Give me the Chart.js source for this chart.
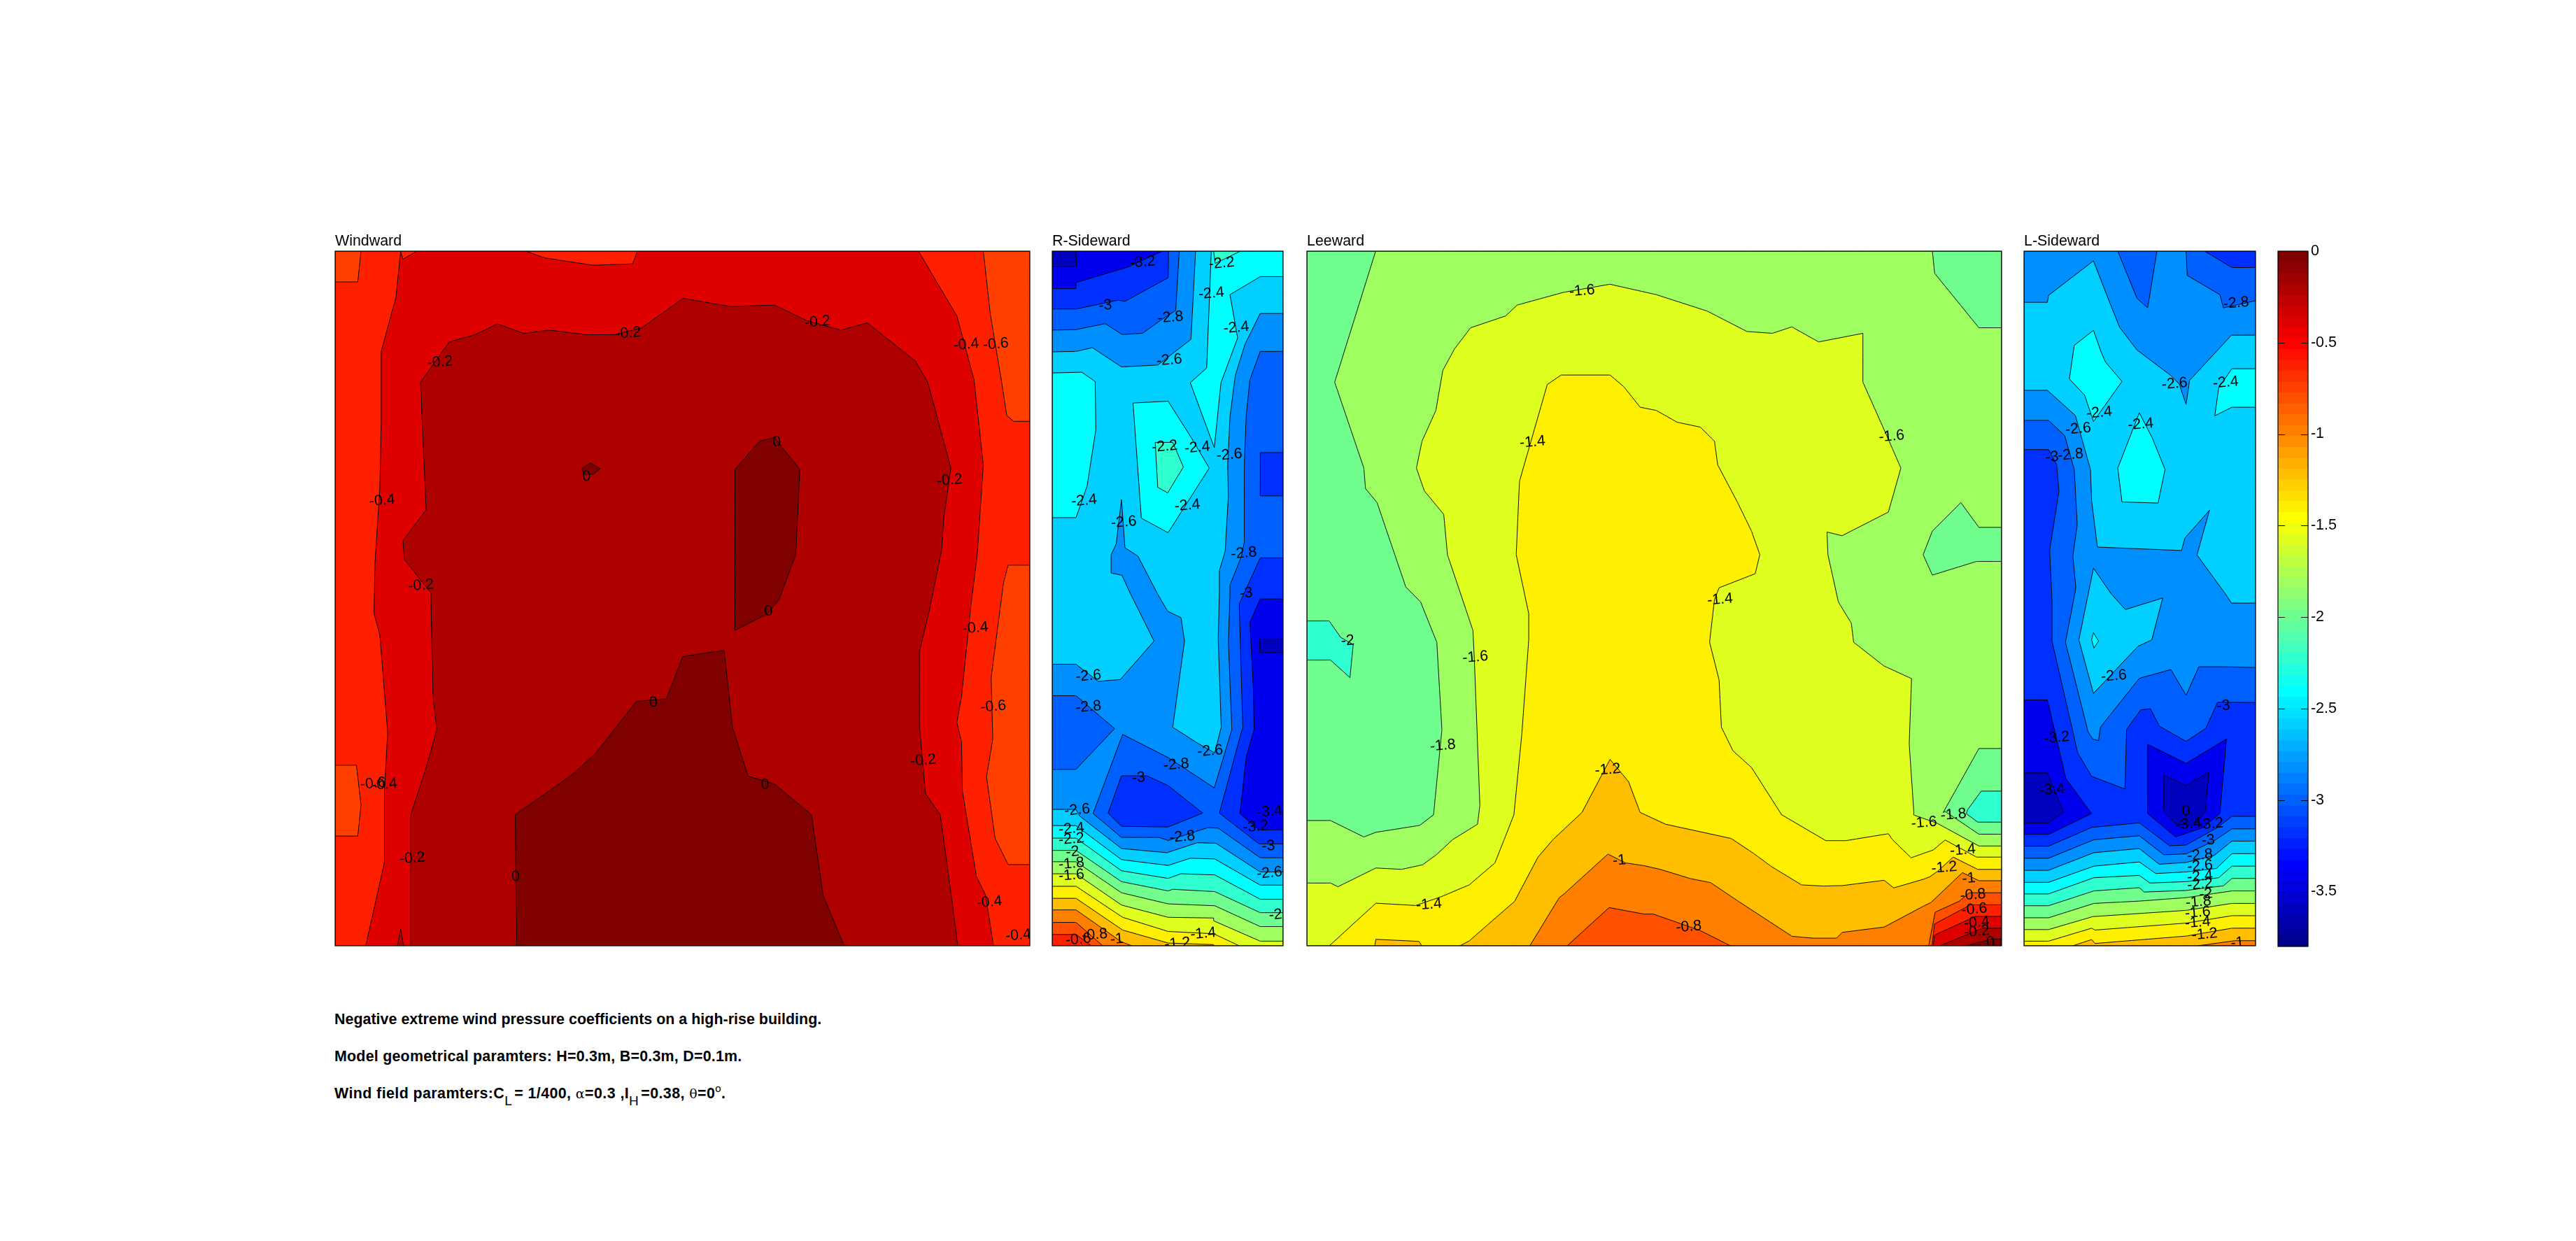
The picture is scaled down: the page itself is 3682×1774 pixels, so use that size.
<!DOCTYPE html>
<html><head><meta charset="utf-8"><title>Negative extreme wind pressure coefficients</title>
<script src="https://cdn.jsdelivr.net/npm/chart.js@4"></script>
<style>
html,body{margin:0;background:#fff;width:3682px;height:1774px;overflow:hidden}
canvas{position:absolute}
.note{position:absolute;left:478px;font:bold 21.4px "Liberation Sans",Arial,sans-serif;color:#000;white-space:nowrap;line-height:24px}
.note sub{font-weight:normal;font-size:19px;line-height:0;vertical-align:-10px;margin-right:3px}
.note sup{font-weight:normal;font-size:15px;line-height:0;vertical-align:9px}
.note .g{font-family:"DejaVu Serif",serif;font-weight:normal;font-size:19px}
</style></head><body>
<div class="note" style="top:1445px;letter-spacing:.03px">Negative extreme wind pressure coefficients on a high-rise building.</div>
<div class="note" style="top:1498px;letter-spacing:.24px">Model geometrical paramters: H=0.3m, B=0.3m, D=0.1m.</div>
<div class="note" style="top:1551px;letter-spacing:.42px">Wind field paramters:C<sub>L</sub>= 1/400, <span class="g">α</span>=0.3 ,I<sub>H</sub>=0.38, <span class="g">θ</span>=0<sup>o</sup>.</div>
<script>
// Contour boundaries, as [x, y] in mm on each building face
// (y measured down from the roof). Faces are 300 mm x 300 mm and 100 mm x 300 mm.
const wideFace=[[0,0],[300,0],[300,300],[0,300]];
const sideFace=[[0,0],[100,0],[100,300],[0,300]];

// ---- Windward
const ww_n08a=[[0,0],[11.2,0],[9.8,13.3],[0,13.3]];
const ww_n08b=[[279.9,0],[300,0],[300,73.5],[293,73.5],[290,70.9],[288,57.6],[282.9,27]];
const ww_n08c=[[300,135.6],[290.6,135.6],[288.6,143.4],[283.3,184.2],[284,210.7],[281.3,227],[285,253.6],[290.6,264.9],[300,264.9]];
const ww_n08d=[[0,222],[9.2,222],[11.2,239.3],[9.8,252.6],[0,252.6]];
const ww_n04=[[28.3,0],[29.3,3.5],[35.3,0],[82.4,0],[90.4,2.9],[111.5,6.1],[128.5,5.5],[130.5,0],[251.9,0],[268.5,28],[275.9,55.5],[279.9,92.3],[277.3,131.1],[274.5,153.6],[270.5,192.4],[268.5,203.6],[270.5,211.8],[270.9,233.2],[276.9,270],[280.9,278.1],[284.3,300],[13.2,300],[17.2,282.2],[21.3,263.8],[21.3,233.2],[22.7,207.7],[19.3,165.8],[16.8,156.6],[17.2,135.2],[19.3,102.5],[19.9,73.9],[19.9,43.3],[26.3,19.8]];
const ww_n02=[[32.7,300],[32.7,243.4],[39.3,223],[43.9,206.7],[42.3,192.4],[41.3,147.4],[36.3,141.3],[29.9,133.1],[29.3,125],[39.3,111.7],[37.9,80],[36.9,56.6],[49.3,39.2],[60.4,36.1],[70,31.4],[81.4,35.5],[92.4,34.1],[108.5,36.1],[120.5,36.1],[132.5,33.1],[150.2,20.4],[170.6,23.9],[189.7,23.3],[203.7,30],[218.4,34.1],[229.8,31],[250.5,47.4],[255.9,56.6],[265.9,93.7],[262.9,114.8],[261.9,129.1],[256.5,155.6],[252.3,173],[252.3,204.6],[254.9,234.2],[261.3,243.4],[266.9,284.3],[268.9,300]];
const ww_n02b=[[26.9,300],[28.3,292.8],[29.5,300]];
const ww_z1=[[106.5,93.9],[110.1,91.5],[114.5,93.9],[111.5,96.4],[107.5,96.4]];
const ww_z2=[[172.6,94.3],[183.3,82.1],[189.7,80.5],[200.7,94.3],[198.9,131.1],[191.7,150.5],[186.7,156.6],[172.6,163.8]];
const ww_z3=[[78.4,300],[77.8,243.4],[102.5,226],[112.5,216.9],[130.1,194.4],[143,193.4],[150.2,175],[168,172.4],[171.6,205.6],[178.3,226.7],[189.7,230.1],[205.7,243.4],[210.7,278.1],[219.8,300]];
const ww_labels=[["-0.2",45.3,48],["-0.2",126.5,35.5],["-0.2",208.3,30.6],["-0.4",272.5,40.4],["-0.6",285.3,40.2],["-0.4",20.3,107.8],["0",108.5,97.4],["0",190.7,82.5],["-0.2",265.3,99],["-0.2",37.1,144.4],["0",187.1,155.6],["-0.4",276.5,162.8],["0",137.4,195],["-0.6",284.2,196.7],["-0.2",253.9,220],["-0.6",16.4,230],["-0.4",21.3,230.4],["0",185.7,230.5],["-0.2",33.3,262.2],["0",78,270.2],["-0.4",282.5,281.2],["-0.4",295,295.5]];

// ---- R-Sideward
const rs_n26a=[[0,0],[62.1,0],[60.1,38.1],[45.7,49.2],[30,50],[17.4,41.7],[10.3,43.3],[0,43.5]];
const rs_n26b=[[30,107.3],[31.5,128.1],[37.1,131.7],[45.7,148.2],[50,155.5],[55.8,158.3],[57.3,168.4],[52.2,205.6],[63.3,212.7],[70.4,216.7],[73.2,205.6],[71.9,167.4],[72.4,148.2],[72.4,138],[74.9,129.6],[76.3,105.7],[76,92.2],[77,71.4],[79.3,53.7],[83.5,40.2],[90.1,26.9],[100,26.9],[100,268.1],[90.1,268.1],[70.9,255.7],[62.8,255.5],[49.7,259.8],[30,258],[11.8,243.9],[10.3,241.1],[0,241.1],[0,178.4],[10.3,178.4],[19.9,185.8],[29.5,185],[44.1,168.4],[34,148.2],[30.2,140],[25.5,139],[25.5,131.2],[27.7,126.5]];
const rs_n28a=[[0,0],[55,0],[53.5,25.6],[47.2,29.7],[39.1,35.5],[30.2,36],[23,31.3],[10.3,33.9],[0,34.1]];
const rs_n28b=[[100,43.3],[90.1,43.3],[85.6,55.7],[84,71.4],[83.2,92.2],[83.2,125.5],[82,131.7],[77,144.2],[77,148.2],[76.3,168.4],[77.8,206.6],[70.2,231.8],[50.2,218.7],[30.5,208.7],[17.7,242.9],[30,253.2],[46.2,253.2],[50.2,254.5],[67.4,249],[71.9,249.2],[90.1,262],[100,262]];
const rs_n28c=[[0,192],[10.3,192],[27,206.2],[10.3,223.8],[0,223.8]];
const rs_n30a=[[0,0],[50.4,0],[50.2,11.5],[31.5,21.7],[28.5,21.2],[10.3,25],[0,25]];
const rs_n30b=[[90.1,87],[100,87],[100,105.7],[90.1,105.7]];
const rs_n30c=[[100,132.5],[90.1,132.5],[81.5,151.3],[81,152.3],[82.5,205.6],[72.4,242.7],[89.6,256],[100,256]];
const rs_n30d=[[30,226.6],[41.1,226.6],[50.2,230.8],[65.2,242.7],[50.2,248.7],[30,248.4],[24.2,242.7]];
const rs_n32a=[[0,0],[47.7,0],[33,6.8],[10.3,13.6],[10.3,16.2],[0,16.2]];
const rs_n32b=[[90.1,150.2],[100,150.2],[100,249.9],[89.6,249.9],[81.3,243],[84,218.7],[87.4,206.6],[87.1,188.5],[85.6,160.3]];
const rs_n34a=[[0,0],[10.4,0],[10.4,6.7],[0,6.7]];
const rs_n34b=[[89.9,167.6],[100,167.6],[100,173.4],[89.9,173.4]];
const rs_p24a=[[0,52.6],[12.8,52.3],[18.6,56.3],[18.9,77.1],[15.1,101.5],[10.3,115.1],[0,115.1]];
const rs_p24b=[[35,65.6],[50.2,64.8],[60.3,80.7],[68,93.7],[50.2,121.6],[38.6,115.3]];
const rs_p24c=[[68.9,0],[66.9,50.5],[59.8,56.8],[70.2,84.9],[73.1,56.8],[80.3,37.5],[77,18.8],[90.1,11],[100,11],[100,0]];
const rs_p24d=[[0,248.1],[10.3,248.1],[30,262.8],[50.2,265.3],[59.8,262.2],[70.4,262.5],[90.1,273.8],[100,273.8],[100,300],[0,300]];
const rs_p22a=[[69.9,0],[70.6,5.3],[81.5,0]];
const rs_p22b=[[44.6,82.6],[52.2,82.6],[56.8,93.2],[50,104.4],[45.7,102]];
const rs_p22c=[[0,253.5],[10.3,253.5],[30,267.6],[50.2,270.9],[55.8,268.9],[70.4,269.4],[90.1,279.9],[100,279.9],[100,300],[0,300]];
const rs_p20=[[0,258.8],[10.3,258.8],[30,272.3],[50.2,276.3],[52.2,275.6],[70.4,276.6],[90.1,285.7],[100,285.7],[100,300],[0,300]];
const rs_p18=[[0,263.7],[10.3,263.7],[30,277.1],[50.2,281.9],[70.4,282.7],[90.1,291.7],[100,291.7],[100,300],[0,300]];
const rs_p16=[[0,268.9],[10.3,268.9],[30,282.4],[50.2,287.7],[69.9,288],[69.9,289.2],[90.1,298],[100,298],[100,300],[0,300]];
const rs_p14=[[0,274.3],[10.3,274.3],[30.5,287.7],[50.2,293.8],[69.9,294.8],[81,300],[0,300]];
const rs_p12=[[0,279.5],[10.3,279.5],[30.5,293.2],[50.2,298.8],[69.9,299.5],[70,300],[0,300]];
const rs_p10=[[0,284.5],[10.3,284.5],[30,298.3],[34.5,300],[0,300]];
const rs_p08=[[0,289.9],[10.3,289.9],[21.9,300],[0,300]];
const rs_p06=[[0,295.1],[10.3,295.1],[16.9,300],[0,300]];
const rs_labels=[["-3.2",39.1,4.8],["-2.2",73.4,5.3],["-2.4",68.9,18.3],["-3",23,23.5],["-2.8",51.2,28.7],["-2.4",79.7,33.1],["-2.6",50.7,47.1],["-2.2",48.7,84.4],["-2.4",62.8,84.9],["-2.6",76.7,88],["-2.4",13.8,107.8],["-2.4",58.5,109.9],["-2.6",31,117.1],["-2.8",83,130.5],["-3",84,147.8],["-2.6",15.7,183.5],["-2.8",15.7,196.9],["-3",37.4,227.5],["-2.8",53.7,221.8],["-2.6",68.4,215.9],["-2.6",10.8,241.4],["-2.4",8.3,249.5],["-2.8",56.3,253],["-3.4",94.1,242.1],["-3.2",88.1,248.6],["-3",93.6,257],["-2.2",8.3,254],["-2",8.8,259.5],["-2.6",94.1,268.6],["-1.8",8.3,264.6],["-1.6",8.3,269.6],["-2",96.7,286.7],["-1.4",65.4,294.8],["-0.8",18.4,295.3],["-0.6",11.3,297.3],["-1",28,297.2],["-1.2",54.2,299.1]];

// ---- Leeward
const lw_n20a=[[0,0],[29.7,0],[12,56.6],[24.6,93.7],[25.3,102.5],[30.3,108.6],[42.7,145],[49.1,151.5],[56.1,168.9],[58.3,206.7],[54.7,243.4],[48.7,248],[29.7,251],[24.6,253],[10.2,245.9],[0,245.9]];
const lw_n20b=[[270.1,0],[271.1,9.6],[290.2,33.1],[300,33.1],[300,0]];
const lw_n20c=[[282.4,108.6],[270.1,120.9],[266.1,131.1],[270.1,139.9],[289.2,134],[300,134],[300,119.3],[290.2,119.3]];
const lw_n20d=[[290.2,214.8],[300,214.8],[300,251.8],[290.2,251.8],[275.6,242],[274.8,242.4]];
const lw_n22a=[[0,159.7],[9.6,159.7],[14.6,166.8],[20,169.9],[18.6,184.2],[10.2,176.6],[0,176.6]];
const lw_n22b=[[291.2,233.2],[300,233.2],[300,246.6],[289.7,246.6],[284.8,243],[285.2,241.4]];
const lw_p16=[[0,272.9],[10.2,272.9],[13.4,274.5],[29.8,266.4],[40.9,267],[50,265],[56,260.6],[63,254.1],[73.7,247.5],[74.7,239.3],[72.3,176],[71.7,163.8],[60.7,131.1],[59.1,113.7],[50.7,103.5],[47.3,93.7],[49.7,82.1],[55.7,68.8],[58.7,51.5],[63.7,42.3],[70.7,33.1],[85.8,28],[90.8,23.3],[110.8,17.8],[130.9,14.3],[150.9,18.8],[172.9,25.9],[190,34.7],[201,35.5],[209.4,32.7],[221,39.2],[240.1,35.5],[240.1,56.6],[250.1,79],[256.5,93.7],[251.1,112.7],[231.1,122.9],[224.6,121.3],[225,131.1],[229.5,151.5],[235.1,160.7],[236.1,168.9],[249.1,179.1],[261.1,184.6],[260.1,212.8],[262.1,242.4],[262,243.5],[272,247],[290.2,256.9],[300,256.9],[300,300],[0,300]];
const lw_p14=[[9.7,300],[29.8,281.6],[46.9,282.6],[58,278.8],[70.1,273.7],[81.2,264.2],[85.2,254.1],[89.4,243.4],[92.8,208.7],[95.8,167.9],[95.8,156.6],[90.4,131.1],[91.8,99.4],[103.8,57.6],[109.8,53.5],[130.9,53.5],[136.9,58.6],[143.9,67.4],[150.9,68.8],[159.9,73.9],[169.9,76],[176,82.1],[177.4,92.3],[186,108.6],[192,120.9],[195.6,131.1],[193.6,139.3],[178,145.4],[176,150.5],[173.9,168.9],[178,185.2],[179,205.6],[184,215.8],[192,223],[205,243.4],[224.1,254.6],[232.7,254.6],[251.1,251.6],[252.8,254.1],[260.9,262],[270.5,258.6],[275.6,254.3],[289.2,261.7],[300,261.7],[300,300]];
const lw_p12a=[[66.1,300],[70.1,297.9],[78.1,290.9],[89.7,280.8],[99.8,261.7],[106.3,254.1],[118.8,242.4],[130.9,219.5],[138.9,229.1],[143.9,242.4],[154.9,247.5],[183,253.6],[183.9,254.1],[192.9,260.1],[200.5,265.7],[213.6,273.7],[223.1,274.2],[231.2,274],[249.3,271.7],[253.4,275],[266.4,271.2],[269,270.2],[272.5,267.7],[279.1,261.7],[289.7,267],[300,267],[300,300]];
const lw_p12b=[[29.3,300],[29.8,297.2],[48.4,298.1],[49.6,300]];
const lw_p10=[[96.3,300],[108.9,279.3],[111.4,277.3],[130,260.4],[137.6,264.2],[145.6,265.4],[152.6,267],[165.7,271],[174.3,272.7],[185.9,280.5],[209.5,295.9],[218.6,296.7],[228.7,296.7],[231.2,294.2],[249.3,291.9],[266.4,282.8],[269.5,281.3],[283.1,268.4],[290.2,271.9],[300,271.9],[300,300]];
const lw_p08a=[[112.4,300],[130.5,283.5],[145.6,286.3],[149.6,286.3],[169.8,293.4],[182.9,300]];
const lw_p08b=[[268.5,300],[271.3,285.5],[281.6,280.8],[286.1,277.1],[300,277.1],[300,300]];
const lw_p06=[[270,300],[271,290.6],[286.6,282.3],[300,282.3],[300,300]];
const lw_p04=[[270.5,300],[271,295.4],[288.7,287.3],[300,287.3],[300,300]];
const lw_p02=[[273.4,300],[291.7,292.4],[300,292.4],[300,300]];
const lw_p00=[[284.6,300],[295.7,297.1],[300,297.1],[300,300]];
const lw_labels=[["-1.6",118.8,17.2],["-1.4",97.4,82.5],["-1.6",252.5,80],["-1.4",178.4,150.5],["-2",17.6,168.3],["-1.6",72.7,175.4],["-1.8",58.7,213.6],["-1.2",129.9,224],["-1.6",266.5,246.9],["-1.8",279.2,243.4],["-1.4",283.2,258.7],["-1",134.9,263.2],["-1.2",275.2,266.3],["-1",285.8,271],["-0.8",287.6,278.1],["-1.4",52.7,282.2],["-0.6",288.2,284.3],["-0.4",289.2,290],["-0.8",164.9,291.8],["-0.2",289.2,293.9],["0",295.2,298.5]];

// ---- L-Sideward
const ls_n26a=[[0,0],[100,0],[100,36.3],[89.6,36.3],[74.5,52.6],[71.5,55.8],[70,66.2],[67,57.3],[63.4,53.7],[48.8,42.7],[41.3,32.9],[36.3,20.4],[30,4.2],[10.6,19.1],[10.1,22.1],[0,22.1]];
const ls_n26b=[[0,60.1],[10.1,60.1],[22.2,71],[25.2,81.8],[28.7,94.3],[29.2,107.8],[31.7,127.8],[68,129.3],[69.5,123.9],[80.1,111.9],[74.7,131.2],[87.1,148.2],[89.6,152],[100,152],[100,254.8],[89.8,254.8],[82.1,261],[70,264],[58.4,264.8],[49.8,258],[30.2,259.8],[10.6,267.4],[0,267.4]];
const ls_gap26=[[30,136.9],[27.7,148.2],[23.7,167.9],[30,191],[49.3,170.6],[55.2,167.9],[59.9,149.8],[43.8,154.8],[37.8,148.2]];
const ls_dot24=[[30,164.8],[32.2,168.4],[30.2,171.4],[29.2,167.9]];
const ls_n28a=[[40.5,0],[57.4,0],[53.4,24.5],[48.8,20.4]];
const ls_n28b=[[70,0],[70.5,10.5],[84.6,18.8],[86.1,24.5],[100,21.4],[100,0]];
const ls_n28c=[[0,73.1],[10.6,73.1],[17.6,79.7],[21.7,94.3],[23,118.2],[21.1,131.7],[22.4,145.2],[21.9,148.2],[17.9,168.9],[27.7,207.7],[29.7,210.7],[32.2,211.4],[33,205.6],[49.8,184.5],[63.4,180.7],[70,191.8],[75.5,179.5],[85.6,179.5],[100,179.8],[100,249.5],[89.8,249.5],[81.6,255],[70,260.3],[60.4,260.7],[49.8,252.5],[30.2,254.2],[10.6,262.2],[0,262.2]];
const ls_n30a=[[78,0],[89.8,7.1],[100,7.1],[100,0]];
const ls_n30b=[[0,85.7],[10.6,85.7],[14.1,92.2],[15.1,103.6],[11.1,129.1],[12.1,151.3],[12.1,168.4],[23.2,216.7],[29.2,226.8],[43.6,232.3],[44.3,206.6],[50.4,198.1],[54.6,197.6],[58.4,205.1],[70,211.7],[78.5,206.1],[83.6,194.8],[100,194.9],[100,244.1],[89.8,244.1],[83.6,248.9],[70,256.5],[62.9,256.8],[49.8,246.9],[29.2,248.9],[10.6,257],[0,257]];
const ls_n32a=[[0,193.8],[10.1,193.8],[18.1,227.8],[29.2,242.9],[10.6,251.9],[0,251.9]];
const ls_n32b=[[53.4,213],[70,221.2],[87.4,210.7],[84.6,242.9],[77.5,248.9],[65.5,253],[53.4,242.9]];
const ls_n34a=[[0,225.3],[10.1,225.3],[17.1,242.4],[10.6,246.9],[0,246.9]];
const ls_n34b=[[60.4,226.3],[70,230.8],[79.8,225],[78.3,241.9],[73.5,248],[65.5,247.4],[60.4,241.9]];
const ls_p24a=[[30,34.2],[21.7,40.7],[19.6,55.2],[26.2,62.2],[30,73.6],[42.3,56.3],[35.2,47.9],[33.2,43.3]];
const ls_p24b=[[49.8,69.8],[40.5,93.7],[42.3,108.3],[57.9,108.8],[60.9,94.3],[55.4,80.7]];
const ls_p24c=[[89.8,50.8],[100,50.8],[100,67.4],[89.8,67.4],[82.4,71.1],[84.1,58.9]];
const ls_p24d=[[0,272.6],[10.6,272.6],[30.2,265.6],[49.8,263.8],[56.9,268.8],[70,268.1],[83.1,266.6],[89.8,260.2],[100,260.2],[100,300],[0,300]];
const ls_p22=[[0,277.6],[10.6,277.6],[30.2,270.6],[49.8,269.6],[54.4,272.9],[70,272.3],[84.1,270.6],[89.8,265.6],[100,265.6],[100,300],[0,300]];
const ls_p20=[[0,282.7],[10.6,282.7],[30.2,276.3],[49.8,274.9],[51.9,276.8],[70,276.1],[86.1,274.1],[89.8,270.9],[100,270.9],[100,300],[0,300]];
const ls_p18=[[0,287.9],[10.6,287.9],[30.2,281.7],[49.8,280.7],[70,279.2],[89.8,276.3],[100,276.3],[100,300],[0,300]];
const ls_p16=[[0,293],[10.6,293],[29.7,287.4],[70,284.7],[89.8,281.7],[100,281.7],[100,300],[0,300]];
const ls_p14=[[0,298],[10.6,298],[29.2,292.4],[30.7,293.2],[70,290.2],[89.8,287],[100,287],[100,300],[0,300]];
const ls_p12=[[21.1,300],[29.2,297.3],[30.7,299],[70,295.8],[89.8,292.4],[100,292.4],[100,300]];
const ls_p10=[[75,300],[91.1,297.8],[100,297.8],[100,300]];
const ls_labels=[["-2.8",91.6,22.5],["-2.6",65,57.3],["-2.4",87.1,56.8],["-2.4",32.5,69.8],["-2.4",50.4,74.8],["-2.6",23.4,76.8],["-3",12.1,89],["-2.8",20.1,88],["-2.6",38.8,183.5],["-3.2",14.1,210.2],["-3",86.1,196.4],["-3.4",12.1,232.6],["0",70,241.9],["-3.4",71,247.5],["-3.2",80.6,247.5],["-3",79.6,254.5],["-2.8",76,260.9],["-2.6",76,265.6],["-2.4",76,270.1],["-2.2",76,273.5],["-2",78.5,277.7],["-1.8",75.3,281.1],["-1.6",75,285.7],["-1.4",75,290],["-1.2",78,295.1],["-1",92.1,298.8]];

// ---- Colour bar
const barTicks=[0,-0.5,-1,-1.5,-2,-2.5,-3,-3.5];
const barMin=-3.8, barMax=0, barSteps=64;

// Jet colour map, 64 steps, addressed by contour level
function jetRow(i){const x=(i+1)/64,c=v=>Math.round(255*Math.max(0,Math.min(1,v)));
  return `rgb(${c(Math.min(4*x-1.5,-4*x+4.5))},${c(Math.min(4*x-0.5,-4*x+3.5))},${c(Math.min(4*x+0.5,-4*x+2.5))})`;}
function jet(level){const t=(level-barMin)/(barMax-barMin);return jetRow(Math.min(63,Math.floor(t*64+1e-9)));}

const FONT='"Liberation Sans",Arial,sans-serif';
function faceChart(cfg){
  const pad={left:3,right:3,top:34,bottom:3};
  const cv=document.createElement('canvas');
  cv.width=cfg.w+pad.left+pad.right;cv.height=cfg.h+pad.top+pad.bottom;
  cv.style.left=(cfg.x-pad.left)+'px';cv.style.top=(cfg.y-pad.top)+'px';
  document.body.appendChild(cv);
  const n=cfg.layers.length;
  new Chart(cv,{type:'scatter',
    data:{datasets:cfg.layers.map(([level,pts],i)=>({
      label:'Cp '+level,order:n-i,
      data:pts.concat([pts[0]]).map(p=>({x:p[0],y:p[1]})),
      showLine:true,fill:'shape',tension:0.0001,
      backgroundColor:jet(level),borderColor:'#000',borderWidth:0.95,
      pointRadius:0,pointHoverRadius:0}))},
    options:{responsive:false,animation:false,events:[],
      layout:{padding:pad},
      plugins:{legend:{display:false},tooltip:{enabled:false},title:{display:false}},
      scales:{x:{type:'linear',display:false,min:0,max:cfg.span},
              y:{type:'linear',display:false,min:0,max:300,reverse:true}}},
    plugins:[{id:'faceText',afterDraw(ch){
      const {ctx,chartArea:a,scales:{x,y}}=ch;
      ctx.save();
      ctx.beginPath();ctx.rect(a.left,a.top,a.width,a.height);ctx.clip();
      ctx.fillStyle='#000';ctx.font='21.4px '+FONT;ctx.textAlign='center';ctx.textBaseline='middle';
      cfg.labels.forEach(([t,vx,vy])=>{ctx.save();ctx.translate(x.getPixelForValue(vx),y.getPixelForValue(vy));
        ctx.rotate(-5*Math.PI/180);ctx.fillText(t,0,0);ctx.restore();});
      ctx.restore();
      ctx.save();ctx.strokeStyle='#000';ctx.lineWidth=1.2;ctx.strokeRect(a.left,a.top,a.width,a.height);
      ctx.fillStyle='#000';ctx.font='21.4px '+FONT;ctx.textAlign='left';ctx.textBaseline='alphabetic';
      ctx.fillText(cfg.title,a.left,a.top-8);ctx.restore();
    }}]});
}

// Windward's outermost band takes the colour of its data minimum, about -0.75
faceChart({title:'Windward',x:479,y:359,w:993,h:993,span:300,labels:ww_labels,layers:[
  [-0.6,wideFace],[-0.75,ww_n08a],[-0.75,ww_n08b],[-0.75,ww_n08c],[-0.75,ww_n08d],
  [-0.4,ww_n04],[-0.2,ww_n02],[-0.2,ww_n02b],[0,ww_z1],[0,ww_z2],[0,ww_z3]]});
faceChart({title:'R-Sideward',x:1504,y:359,w:330,h:993,span:100,labels:rs_labels,layers:[
  [-2.6,sideFace],[-2.8,rs_n26a],[-2.8,rs_n26b],[-3,rs_n28a],[-3,rs_n28b],[-3,rs_n28c],
  [-3.2,rs_n30a],[-3.2,rs_n30b],[-3.2,rs_n30c],[-3.2,rs_n30d],[-3.4,rs_n32a],[-3.4,rs_n32b],
  [-3.6,rs_n34a],[-3.6,rs_n34b],[-2.4,rs_p24a],[-2.4,rs_p24b],[-2.4,rs_p24c],[-2.4,rs_p24d],
  [-2.2,rs_p22a],[-2.2,rs_p22b],[-2.2,rs_p22c],[-2,rs_p20],[-1.8,rs_p18],[-1.6,rs_p16],
  [-1.4,rs_p14],[-1.2,rs_p12],[-1,rs_p10],[-0.8,rs_p08],[-0.6,rs_p06]]});
faceChart({title:'Leeward',x:1868,y:359,w:993,h:993,span:300,labels:lw_labels,layers:[
  [-1.8,wideFace],[-2,lw_n20a],[-2,lw_n20b],[-2,lw_n20c],[-2,lw_n20d],[-2.2,lw_n22a],[-2.2,lw_n22b],
  [-1.6,lw_p16],[-1.4,lw_p14],[-1.2,lw_p12a],[-1.2,lw_p12b],[-1,lw_p10],[-0.8,lw_p08a],[-0.8,lw_p08b],
  [-0.6,lw_p06],[-0.4,lw_p04],[-0.2,lw_p02],[0,lw_p00]]});
faceChart({title:'L-Sideward',x:2893,y:359,w:331,h:993,span:100,labels:ls_labels,layers:[
  [-2.6,sideFace],[-2.8,ls_n26a],[-2.8,ls_n26b],[-2.6,ls_gap26],[-2.4,ls_dot24],
  [-3,ls_n28a],[-3,ls_n28b],[-3,ls_n28c],[-3.2,ls_n30a],[-3.2,ls_n30b],[-3.4,ls_n32a],[-3.4,ls_n32b],
  [-3.6,ls_n34a],[-3.6,ls_n34b],[-2.4,ls_p24a],[-2.4,ls_p24b],[-2.4,ls_p24c],[-2.4,ls_p24d],
  [-2.2,ls_p22],[-2,ls_p20],[-1.8,ls_p18],[-1.6,ls_p16],[-1.4,ls_p14],[-1.2,ls_p12],[-1,ls_p10]]});

// Colour bar: one floating bar per colour-map step, on a real value axis
(function(){
  const pad={left:3,right:3,top:34,bottom:34};
  const cv=document.createElement('canvas');
  cv.width=43+pad.left+pad.right+80;cv.height=994+pad.top+pad.bottom;
  cv.style.left=(3256-pad.left)+'px';cv.style.top=(359-pad.top)+'px';
  document.body.appendChild(cv);
  const step=(barMax-barMin)/barSteps;
  const bands=Array.from({length:barSteps},(_,i)=>({
    data:[[barMin+i*step,Math.min(barMax,barMin+(i+1)*step+0.003)]],backgroundColor:jetRow(i),borderWidth:0,order:barSteps-i}));
  new Chart(cv,{type:'bar',data:{labels:['Cp'],datasets:bands},
    options:{responsive:false,animation:false,events:[],layout:{padding:pad},
      datasets:{bar:{grouped:false,barPercentage:1,categoryPercentage:1}},
      plugins:{legend:{display:false},tooltip:{enabled:false}},
      scales:{x:{display:false},
        y:{position:'right',min:barMin,max:barMax,
           afterBuildTicks(s){s.ticks=barTicks.map(v=>({value:v}));},
           afterFit(s){s.width=80;},
           border:{display:false},grid:{display:false,drawTicks:false},
           ticks:{color:'#000',padding:4,autoSkip:false,font:{family:FONT,size:21.4},callback:v=>String(v)}}}},
    plugins:[{id:'barFrame',afterDraw(ch){
      const {ctx,chartArea:a,scales:{y}}=ch;
      ctx.save();ctx.strokeStyle='#000';ctx.lineWidth=1;ctx.beginPath();
      barTicks.forEach(v=>{const p=Math.round(y.getPixelForValue(v))+0.5;if(v===0)return;
        ctx.moveTo(a.left,p);ctx.lineTo(a.left+10,p);ctx.moveTo(a.right-10,p);ctx.lineTo(a.right,p);});
      ctx.stroke();ctx.lineWidth=1.2;ctx.strokeRect(a.left,a.top,a.width,a.height);ctx.restore();
    }}]});
})();
</script></body></html>
